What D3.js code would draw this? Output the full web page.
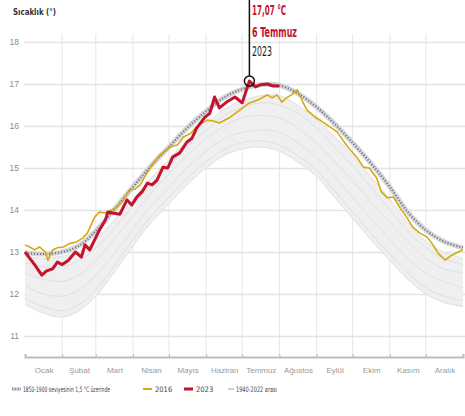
<!DOCTYPE html>
<html>
<head>
<meta charset="utf-8">
<script src="https://cdn.jsdelivr.net/npm/d3@7"></script>
<style>
  body { margin: 0; background: #fff; }
  svg { font-family: "Liberation Sans Narrow", "DejaVu Sans Condensed", sans-serif; }
  .ylab text { fill: #8a8a8a; font-size: 8.5px; }
  .mlab text { fill: #9a9a9a; font-size: 8px; }
  .legend text { fill: #444; font-size: 7.5px; }
</style>
</head>
<body>
<div id="chart"></div>
<script>
// Gunluk kuresel ortalama hava sicakligi (°C)
var monthNames = ["Ocak", "Şubat", "Mart", "Nisan", "Mayıs", "Haziran", "Temmuz", "Ağustos", "Eylül", "Ekim", "Kasım", "Aralık"];
var monthStarts = [0, 31, 59, 90, 120, 151, 181, 212, 243, 273, 304, 334, 365];
var yTicks = [11, 12, 13, 14, 15, 16, 17, 18];

// ortak gun izgarasi (band ve esik cizgisi icin)
var gridDays = [0, 15, 31, 45, 59, 74, 90, 105, 120, 135, 151, 166, 181, 196, 212, 227, 243, 258, 273, 288, 304, 319, 334, 349, 365];

// 1850-1900 seviyesinin 1,5 °C uzerinde
var threshold = [12.98, 12.95, 13.0, 13.15, 13.5, 14.0, 14.55, 15.05, 15.5, 15.95, 16.35, 16.68, 16.88, 16.98, 16.97, 16.78, 16.45, 16.05, 15.6, 15.12, 14.55, 13.95, 13.52, 13.25, 13.1];

// 1940-2022 arasi: zarf ve birkac ornek yil
var bandHigh = [12.9, 12.85, 12.9, 13.0, 13.3, 13.75, 14.25, 14.75, 15.2, 15.65, 16.05, 16.4, 16.6, 16.72, 16.72, 16.5, 16.15, 15.75, 15.3, 14.8, 14.25, 13.7, 13.25, 13.0, 12.85];
var bandLow = [11.75, 11.55, 11.45, 11.6, 11.95, 12.5, 13.15, 13.7, 14.15, 14.6, 15.0, 15.3, 15.45, 15.5, 15.4, 15.15, 14.8, 14.3, 13.8, 13.3, 12.8, 12.35, 12.0, 11.8, 11.7];
var greyA = [11.9, 11.7, 11.6, 11.75, 12.1, 12.65, 13.3, 13.85, 14.3, 14.75, 15.15, 15.45, 15.6, 15.65, 15.55, 15.3, 14.95, 14.45, 13.95, 13.45, 12.95, 12.5, 12.15, 11.95, 11.85];
var greyB = [12.2, 12.0, 11.95, 12.1, 12.45, 12.95, 13.55, 14.1, 14.55, 15.0, 15.4, 15.7, 15.85, 15.9, 15.85, 15.6, 15.25, 14.8, 14.3, 13.8, 13.3, 12.85, 12.5, 12.3, 12.15];
var greyC = [12.5, 12.35, 12.3, 12.45, 12.8, 13.3, 13.85, 14.4, 14.85, 15.3, 15.7, 16.0, 16.2, 16.25, 16.2, 15.95, 15.6, 15.15, 14.7, 14.2, 13.7, 13.25, 12.85, 12.6, 12.5];
var greyD = [12.75, 12.65, 12.65, 12.8, 13.1, 13.55, 14.1, 14.6, 15.05, 15.5, 15.9, 16.25, 16.45, 16.55, 16.5, 16.3, 15.95, 15.5, 15.05, 14.55, 14.0, 13.5, 13.1, 12.85, 12.7];

// 2016
var days2016 = [0, 4, 8, 12, 17, 19, 23, 27, 32, 37, 43, 48, 52, 58, 62, 67, 72, 77, 82, 87, 92, 96, 102, 107, 112, 121, 127, 132, 138, 143, 152, 157, 162, 171, 179, 187, 194, 202, 206, 210, 214, 218, 222, 227, 231, 235, 243, 252, 260, 269, 277, 282, 287, 293, 297, 302, 307, 312, 318, 323, 329, 335, 340, 344, 350, 356, 361, 365];
var temps2016 = [13.17, 13.12, 13.05, 13.12, 13.0, 12.8, 13.05, 13.1, 13.12, 13.2, 13.24, 13.33, 13.45, 13.83, 13.95, 13.93, 14.0, 14.07, 14.24, 14.48, 14.5, 14.6, 14.9, 15.12, 15.3, 15.5, 15.55, 15.74, 15.82, 15.98, 16.14, 16.12, 16.07, 16.21, 16.38, 16.55, 16.62, 16.74, 16.67, 16.74, 16.57, 16.67, 16.74, 16.86, 16.6, 16.38, 16.19, 16.02, 15.86, 15.5, 15.24, 15.02, 15.0, 14.76, 14.43, 14.29, 14.31, 14.07, 13.83, 13.6, 13.45, 13.36, 13.17, 12.98, 12.81, 12.93, 13.0, 13.05];

// 2023
var days2023 = [0, 4, 8, 14, 18, 23, 27, 31, 36, 42, 47, 50, 54, 58, 62, 67, 69, 73, 79, 85, 89, 93, 98, 102, 106, 110, 115, 119, 123, 129, 135, 139, 143, 150, 154, 158, 162, 168, 175, 181, 187, 192, 196, 202, 207, 212];
var temps2023 = [13.0, 12.85, 12.7, 12.45, 12.55, 12.6, 12.76, 12.7, 12.8, 13.0, 12.88, 13.17, 13.05, 13.29, 13.52, 13.76, 13.95, 13.93, 13.9, 14.24, 14.12, 14.3, 14.45, 14.64, 14.6, 14.71, 15.02, 15.0, 15.26, 15.36, 15.62, 15.7, 15.95, 16.21, 16.3, 16.69, 16.43, 16.57, 16.69, 16.55, 17.07, 16.93, 16.98, 17.0, 16.95, 16.95];

var peak = {day: 187, value: 17.07};

var width = 465;
var height = 416;

var svg = d3.select("#chart").append("svg")
	.attr("width", width)
	.attr("height", height);

var x = d3.scaleLinear().domain([0, 365]).range([25, 463]);
var y = d3.scaleLinear().domain([11, 18]).range([336, 42]);

// baslik
svg.append("text")
	.attr("x", 13).attr("y", 15)
	.attr("font-size", 8.5).attr("font-weight", "bold").attr("fill", "#333")
	.attr("textLength", 43).attr("lengthAdjust", "spacingAndGlyphs")
	.text("Sıcaklık (°)");

// dikey izgara
svg.append("g").selectAll("line")
	.data(monthStarts.slice(1, 12))
	.enter().append("line")
		.attr("x1", d => x(d)).attr("x2", d => x(d))
		.attr("y1", 34).attr("y2", 357)
		.attr("stroke", "#e6e6e6").attr("stroke-width", 1);

// y ekseni + yatay izgara
var yAxis = svg.append("g")
	.attr("class", "ylab")
	.attr("transform", "translate(24,0)")
	.call(d3.axisLeft(y).tickValues(yTicks).tickFormat(d3.format("d")).tickSize(-(width - 24)).tickPadding(5));
yAxis.select(".domain").remove();
yAxis.selectAll("line").attr("stroke", "#e3e3e3").attr("stroke-width", 1.5);

// 1940-2022 bandi
var area = d3.area()
	.x((d, i) => x(gridDays[i]))
	.y0(d => y(d[0]))
	.y1(d => y(d[1]))
	.curve(d3.curveCatmullRom);
svg.append("path")
	.datum(bandLow.map((d, i) => [d, bandHigh[i]]))
	.attr("d", area)
	.attr("fill", "#efefef");

var gridLine = d3.line()
	.x((d, i) => x(gridDays[i]))
	.y(d => y(d))
	.curve(d3.curveCatmullRom);
svg.append("g").selectAll("path")
	.data([bandLow, greyA, greyB, greyC, greyD, bandHigh])
	.enter().append("path")
		.attr("d", gridLine)
		.attr("fill", "none")
		.attr("stroke", "#e0e0e0")
		.attr("stroke-width", 1);

// esik cizgisi
svg.append("path")
	.datum(threshold)
	.attr("d", gridLine)
	.attr("fill", "none").attr("stroke", "#d6d6da").attr("stroke-width", 5);
svg.append("path")
	.datum(threshold)
	.attr("d", gridLine)
	.attr("fill", "none").attr("stroke", "#6e7284").attr("stroke-width", 2)
	.attr("stroke-dasharray", "1.2 1.8");

// 2016 ve 2023
var line = d3.line().x(d => x(d[0])).y(d => y(d[1]));
svg.append("path")
	.datum(days2016.map((d, i) => [d, temps2016[i]]))
	.attr("d", line)
	.attr("fill", "none").attr("stroke", "#d2aa12").attr("stroke-width", 1.6)
	.attr("stroke-linejoin", "round");
svg.append("path")
	.datum(days2023.map((d, i) => [d, temps2023[i]]))
	.attr("d", line)
	.attr("fill", "none").attr("stroke", "#c4122f").attr("stroke-width", 3)
	.attr("stroke-linejoin", "round");

// x ekseni
var xAxis = svg.append("g")
	.attr("transform", "translate(0,357)")
	.call(d3.axisBottom(x).tickValues(monthStarts).tickSize(-3).tickFormat(""));
xAxis.select(".domain").attr("stroke", "#bdbdbd").attr("stroke-width", 2);
xAxis.selectAll("line").attr("stroke", "#bdbdbd");

var mids = monthStarts.slice(0, 12).map((d, i) => (d + monthStarts[i + 1]) / 2);
var mAxis = svg.append("g")
	.attr("class", "mlab")
	.attr("transform", "translate(0,357)")
	.call(d3.axisBottom(x).tickValues(mids).tickSize(0).tickPadding(10)
		.tickFormat((d, i) => monthNames[i]));
mAxis.select(".domain").remove();

// zirve notu
svg.append("line")
	.attr("x1", x(peak.day)).attr("x2", x(peak.day))
	.attr("y1", 0).attr("y2", y(peak.value) - 5)
	.attr("stroke", "#111").attr("stroke-width", 1.5);
svg.append("circle")
	.attr("cx", x(peak.day)).attr("cy", y(peak.value)).attr("r", 5)
	.attr("fill", "none").attr("stroke", "#111").attr("stroke-width", 1.5);
var note = svg.append("g").attr("font-size", 14);
note.append("text").attr("x", 252).attr("y", 15).attr("fill", "#c4122f").attr("font-weight", "bold")
	.attr("textLength", 34).attr("lengthAdjust", "spacingAndGlyphs").text("17,07 °C");
note.append("text").attr("x", 252).attr("y", 37).attr("fill", "#c4122f").attr("font-weight", "bold")
	.attr("textLength", 45).attr("lengthAdjust", "spacingAndGlyphs").text("6 Temmuz");
note.append("text").attr("x", 252).attr("y", 56).attr("fill", "#222")
	.attr("textLength", 20).attr("lengthAdjust", "spacingAndGlyphs").text("2023");

// lejant
var legend = svg.append("g").attr("class", "legend");
legend.append("line").attr("x1", 12).attr("x2", 21).attr("y1", 389).attr("y2", 389)
	.attr("stroke", "#d6d6da").attr("stroke-width", 4);
legend.append("line").attr("x1", 12).attr("x2", 21).attr("y1", 389).attr("y2", 389)
	.attr("stroke", "#6e7284").attr("stroke-width", 1.6).attr("stroke-dasharray", "1.2 1.6");
legend.append("text").attr("x", 23).attr("y", 392)
	.attr("textLength", 87).attr("lengthAdjust", "spacingAndGlyphs")
	.text("1850-1900 seviyesinin 1,5 °C üzerinde");
legend.append("line").attr("x1", 143).attr("x2", 152).attr("y1", 389).attr("y2", 389)
	.attr("stroke", "#d2aa12").attr("stroke-width", 2);
legend.append("text").attr("x", 155).attr("y", 392).text("2016");
legend.append("line").attr("x1", 184).attr("x2", 193).attr("y1", 389).attr("y2", 389)
	.attr("stroke", "#c4122f").attr("stroke-width", 3);
legend.append("text").attr("x", 196).attr("y", 392).text("2023");
legend.append("line").attr("x1", 228).attr("x2", 234).attr("y1", 389).attr("y2", 389)
	.attr("stroke", "#d0d0d0").attr("stroke-width", 2);
legend.append("text").attr("x", 236).attr("y", 392)
	.attr("textLength", 41).attr("lengthAdjust", "spacingAndGlyphs")
	.text("1940-2022 arası");
</script>
</body>
</html>
